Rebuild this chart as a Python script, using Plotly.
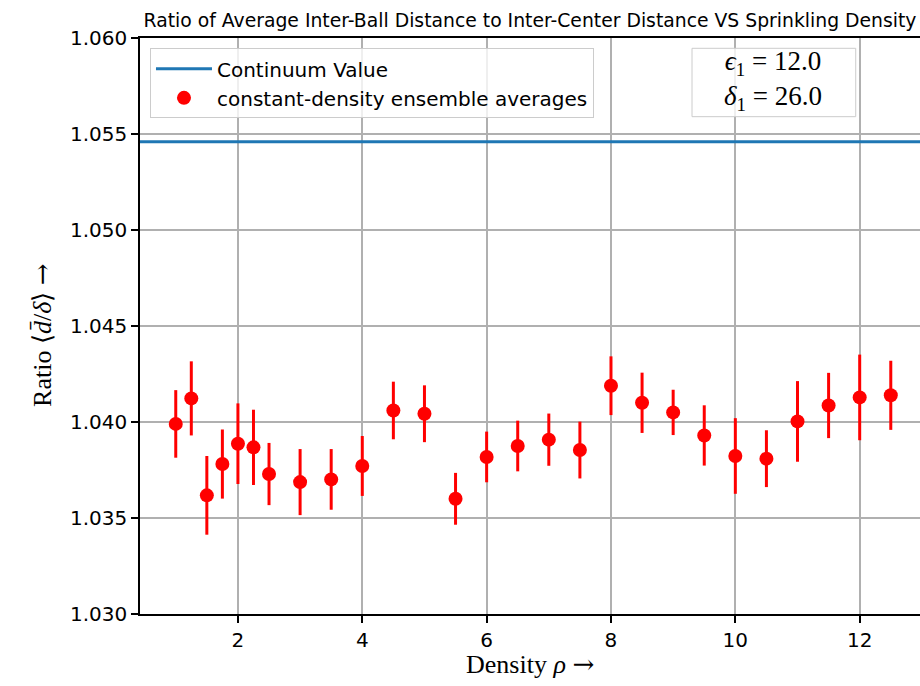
import plotly.graph_objects as go

# ---- data ----
density = [1.0, 1.25, 1.5, 1.75, 2.0, 2.25, 2.5, 3.0, 3.5, 4.0, 4.5, 5.0, 5.5, 6.0,
           6.5, 7.0, 7.5, 8.0, 8.5, 9.0, 9.5, 10.0, 10.5, 11.0, 11.5, 12.0, 12.5]
ratio = [1.0399, 1.04123, 1.03618, 1.03781, 1.03887, 1.03868, 1.03729, 1.03687, 1.03701,
         1.03771, 1.0406, 1.04043, 1.0360, 1.03818, 1.03875, 1.03908, 1.03854, 1.04189,
         1.0410, 1.0405, 1.0393, 1.03823, 1.03809, 1.04003, 1.04086, 1.04128, 1.04139]
ratio_err = [0.00176, 0.00193, 0.00205, 0.0018, 0.0021, 0.00196, 0.00162, 0.00172, 0.00158,
             0.00156, 0.0015, 0.00148, 0.00135, 0.00132, 0.00132, 0.00136, 0.00148, 0.00153,
             0.00157, 0.00118, 0.00157, 0.00197, 0.00148, 0.0021, 0.0017, 0.00223, 0.0018]
continuum_value = 1.0546
x_range = [0.425, 12.97]
y_range = [1.030, 1.060]
x_ticks = [2, 4, 6, 8, 10, 12]
y_ticks = [1.030, 1.035, 1.040, 1.045, 1.050, 1.055, 1.060]

SANS = "DejaVu Sans"
SERIF = "Liberation Serif"
ARROW = '<span style="font-family:DejaVu Serif">→</span>'

fig = go.Figure()
fig.add_trace(go.Scatter(
    x=x_range, y=[continuum_value, continuum_value], mode="lines",
    line=dict(color="#1f77b4", width=3), name="Continuum Value"))
fig.add_trace(go.Scatter(
    x=density, y=ratio, mode="markers",
    marker=dict(color="red", size=14),
    error_y=dict(type="data", array=ratio_err, color="red", thickness=3, width=0),
    name="constant-density ensemble averages"))

fig.update_layout(
    width=920, height=686,
    margin=dict(l=140, r=0, t=38, b=72),
    paper_bgcolor="white", plot_bgcolor="white",
    font=dict(family=SANS, size=20, color="black"),
    showlegend=True,
    legend=dict(x=0.0128, y=0.982, xanchor="left", yanchor="top",
                bgcolor="rgba(255,255,255,0.8)", bordercolor="#cccccc", borderwidth=1,
                font=dict(family=SANS, size=20), itemwidth=56),
    title=dict(text="Ratio of Average Inter-Ball Distance to Inter-Center Distance VS Sprinkling Density",
               x=0.5, xref="paper", xanchor="center", y=1 - 20.5 / 686, yanchor="middle",
               font=dict(family=SANS, size=18.8, color="black")),
)
fig.update_xaxes(range=x_range, tickvals=x_ticks, ticks="outside", ticklen=7, tickwidth=1.6,
                 tickcolor="black", showline=True, linecolor="black", linewidth=1.6, mirror=True,
                 showgrid=True, gridcolor="#b0b0b0", gridwidth=1.5, zeroline=False,
                 tickfont=dict(family=SANS, size=20))
fig.update_yaxes(range=y_range, tickvals=y_ticks, tickformat=".3f", ticks="outside", ticklen=7,
                 tickwidth=1.6, tickcolor="black", showline=True, linecolor="black", linewidth=1.6,
                 mirror=False, showgrid=True, gridcolor="#b0b0b0", gridwidth=1.5, zeroline=False,
                 tickfont=dict(family=SANS, size=20))

# axis labels
fig.add_annotation(text="Density <i>ρ</i> " + ARROW, xref="paper", yref="paper", x=0.5, y=-0.086,
                   xanchor="center", yanchor="middle", showarrow=False,
                   font=dict(family=SERIF, size=26, color="black"))
fig.add_annotation(text="Ratio ⟨<i>d̄</i>/<i>δ</i>⟩ " + ARROW, xref="paper", yref="paper",
                   x=-0.126, y=0.484,
                   xanchor="center", yanchor="middle", textangle=-90, showarrow=False,
                   font=dict(family=SERIF, size=26, color="black"))

# parameter box
fig.add_shape(type="rect", xref="paper", yref="paper", x0=0.7077, x1=0.9176, y0=0.8634, y1=0.9821,
              line=dict(color="#cccccc", width=1), fillcolor="rgba(255,255,255,0.8)", layer="above")
fig.add_annotation(text="<i>ϵ</i><sub>1</sub> = 12.0<br><i>δ</i><sub>1</sub> = 26.0",
                   xref="paper", yref="paper", x=0.8115, y=0.9255, xanchor="center", yanchor="middle",
                   showarrow=False, align="center",
                   font=dict(family=SERIF, size=27, color="black"))

fig.write_html("out.html")
